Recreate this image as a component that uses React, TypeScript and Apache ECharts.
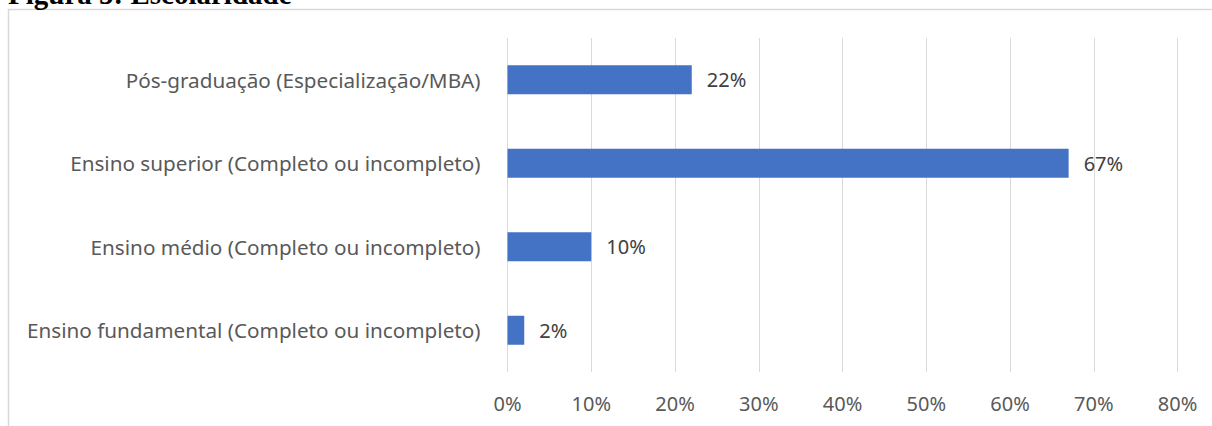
import React, { useEffect, useRef } from "react";
import * as echarts from "echarts";

const categories = [
  "Pós-graduação (Especialização/MBA)",
  "Ensino superior (Completo ou incompleto)",
  "Ensino médio (Completo ou incompleto)",
  "Ensino fundamental (Completo ou incompleto)",
];
const values = [22, 67, 10, 2];
const titleText = "Figura 5: Escolaridade";

const FONT = "'Noto Sans', sans-serif";

export default function App() {
  const ref = useRef<HTMLDivElement>(null);
  useEffect(() => {
    if (!ref.current) return;
    const chart = echarts.init(ref.current, null, { renderer: "svg" });
    chart.setOption({
      animation: false,
      backgroundColor: "#ffffff",
      graphic: [
        {
          type: "rect",
          shape: { x: 8.5, y: 9.5, width: 1220, height: 440 },
          style: { fill: "none", stroke: "#d9d9d9", lineWidth: 1.5 },
          z: -1,
        },
        {
          type: "text",
          x: 8,
          y: 8,
          style: {
            text: titleText,
            font: "bold 29px 'Liberation Serif', serif",
            fill: "#000000",
            verticalAlign: "bottom",
          },
        },
      ],
      grid: { left: 507.5, right: 34.5, top: 38, bottom: 54, containLabel: false },
      xAxis: {
        type: "value",
        min: 0,
        max: 80,
        interval: 10,
        axisLine: { show: false },
        axisTick: { show: false },
        splitLine: { show: true, lineStyle: { color: "#d9d9d9", width: 1 } },
        axisLabel: {
          formatter: "{value}%",
          color: "#595959",
          fontFamily: FONT,
          fontSize: 20,
          margin: 21,
        },
      },
      yAxis: {
        type: "category",
        data: categories,
        inverse: true,
        axisLine: { show: false },
        axisTick: { show: false },
        axisLabel: {
          color: "#595959",
          fontFamily: FONT,
          fontSize: 20.7,
          margin: 27,
        },
      },
      series: [
        {
          type: "bar",
          data: values,
          barWidth: 29,
          itemStyle: { color: "#4472c4" },
          label: {
            show: true,
            position: "right",
            distance: 15,
            formatter: "{c}%",
            color: "#404040",
            fontFamily: FONT,
            fontSize: 20,
          },
        },
      ],
    });
    return () => chart.dispose();
  }, []);
  return (
    <div
      ref={ref}
      style={{ position: "fixed", left: 0, top: 0, width: 1212, height: 426 }}
    />
  );
}
